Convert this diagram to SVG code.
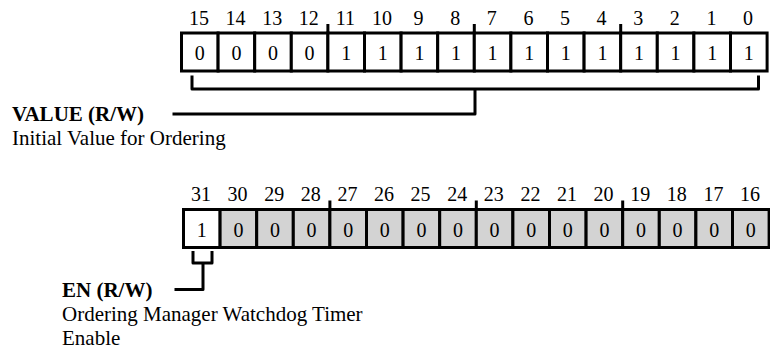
<svg xmlns="http://www.w3.org/2000/svg" width="770" height="354" viewBox="0 0 770 354">
<style>
.cell{fill:#fff;stroke:#000;stroke-width:3}
.g{fill:#d3d3d3}
.num{font-family:"Liberation Serif","Times New Roman",serif;font-size:20px;text-anchor:middle;fill:#000}
.val{font-family:"Liberation Serif","Times New Roman",serif;font-size:20px;text-anchor:middle;fill:#000}
.tick{stroke:#000;stroke-width:3;fill:none}
.conn{stroke:#000;stroke-width:3;fill:none;stroke-linejoin:round;stroke-linecap:square}
.lbl{font-family:"Liberation Serif","Times New Roman",serif;font-size:21px;fill:#000}
.b{font-weight:bold}
</style>
<rect width="770" height="354" fill="#fff"/>
<g id="reg-low" transform="translate(181.5,33)">
<g class="cells">
<rect class="cell" x="0" y="0" width="36.6" height="38"/>
<rect class="cell" x="36.6" y="0" width="36.6" height="38"/>
<rect class="cell" x="73.2" y="0" width="36.6" height="38"/>
<rect class="cell" x="109.8" y="0" width="36.6" height="38"/>
<rect class="cell" x="146.4" y="0" width="36.6" height="38"/>
<rect class="cell" x="183" y="0" width="36.6" height="38"/>
<rect class="cell" x="219.6" y="0" width="36.6" height="38"/>
<rect class="cell" x="256.2" y="0" width="36.6" height="38"/>
<rect class="cell" x="292.8" y="0" width="36.6" height="38"/>
<rect class="cell" x="329.4" y="0" width="36.6" height="38"/>
<rect class="cell" x="366" y="0" width="36.6" height="38"/>
<rect class="cell" x="402.6" y="0" width="36.6" height="38"/>
<rect class="cell" x="439.2" y="0" width="36.6" height="38"/>
<rect class="cell" x="475.8" y="0" width="36.6" height="38"/>
<rect class="cell" x="512.4" y="0" width="36.6" height="38"/>
<rect class="cell" x="549" y="0" width="36.6" height="38"/>
</g>
<path class="tick" d="M146.4,-9V0M292.8,-9V0M439.2,-9V0"/>
<g class="num">
<text x="17.5" y="-8">15</text><text x="54.1" y="-8">14</text><text x="90.7" y="-8">13</text><text x="127.3" y="-8">12</text>
<text x="163.9" y="-8">11</text><text x="200.5" y="-8">10</text><text x="237.1" y="-8">9</text><text x="273.7" y="-8">8</text>
<text x="310.3" y="-8">7</text><text x="346.9" y="-8">6</text><text x="383.5" y="-8">5</text><text x="420.1" y="-8">4</text>
<text x="456.7" y="-8">3</text><text x="493.3" y="-8">2</text><text x="529.9" y="-8">1</text><text x="566.5" y="-8">0</text>
</g>
<g class="val">
<text x="18.3" y="27">0</text><text x="54.9" y="27">0</text><text x="91.5" y="27">0</text><text x="128.1" y="27">0</text>
<text x="164.7" y="27">1</text><text x="201.3" y="27">1</text><text x="237.9" y="27">1</text><text x="274.5" y="27">1</text>
<text x="311.1" y="27">1</text><text x="347.7" y="27">1</text><text x="384.3" y="27">1</text><text x="420.9" y="27">1</text>
<text x="457.5" y="27">1</text><text x="494.1" y="27">1</text><text x="530.7" y="27">1</text><text x="567.3" y="27">1</text>
</g>
</g>
<g id="reg-high" transform="translate(183.5,209.5)">
<g class="cells">
<rect class="cell" x="0" y="0" width="36.6" height="38"/>
<rect class="cell g" x="36.6" y="0" width="36.6" height="38"/>
<rect class="cell g" x="73.2" y="0" width="36.6" height="38"/>
<rect class="cell g" x="109.8" y="0" width="36.6" height="38"/>
<rect class="cell g" x="146.4" y="0" width="36.6" height="38"/>
<rect class="cell g" x="183" y="0" width="36.6" height="38"/>
<rect class="cell g" x="219.6" y="0" width="36.6" height="38"/>
<rect class="cell g" x="256.2" y="0" width="36.6" height="38"/>
<rect class="cell g" x="292.8" y="0" width="36.6" height="38"/>
<rect class="cell g" x="329.4" y="0" width="36.6" height="38"/>
<rect class="cell g" x="366" y="0" width="36.6" height="38"/>
<rect class="cell g" x="402.6" y="0" width="36.6" height="38"/>
<rect class="cell g" x="439.2" y="0" width="36.6" height="38"/>
<rect class="cell g" x="475.8" y="0" width="36.6" height="38"/>
<rect class="cell g" x="512.4" y="0" width="36.6" height="38"/>
<rect class="cell g" x="549" y="0" width="36.6" height="38"/>
</g>
<path class="tick" d="M146.4,-9V0M292.8,-9V0M439.2,-9V0"/>
<g class="num">
<text x="17.5" y="-9">31</text><text x="54.1" y="-9">30</text><text x="90.7" y="-9">29</text><text x="127.3" y="-9">28</text>
<text x="163.9" y="-9">27</text><text x="200.5" y="-9">26</text><text x="237.1" y="-9">25</text><text x="273.7" y="-9">24</text>
<text x="310.3" y="-9">23</text><text x="346.9" y="-9">22</text><text x="383.5" y="-9">21</text><text x="420.1" y="-9">20</text>
<text x="456.7" y="-9">19</text><text x="493.3" y="-9">18</text><text x="529.9" y="-9">17</text><text x="566.5" y="-9">16</text>
</g>
<g class="val">
<text x="18.3" y="27">1</text><text x="54.9" y="27">0</text><text x="91.5" y="27">0</text><text x="128.1" y="27">0</text>
<text x="164.7" y="27">0</text><text x="201.3" y="27">0</text><text x="237.9" y="27">0</text><text x="274.5" y="27">0</text>
<text x="311.1" y="27">0</text><text x="347.7" y="27">0</text><text x="384.3" y="27">0</text><text x="420.9" y="27">0</text>
<text x="457.5" y="27">0</text><text x="494.1" y="27">0</text><text x="530.7" y="27">0</text><text x="567.3" y="27">0</text>
</g>
</g>
<g id="connectors">
<path class="conn" d="M192,77V89H758.5V77M475,89V114H174"/>
<path class="conn" d="M193,252.5V263H212V252.5M203,263V289.5H176"/>
</g>
<g id="label-value">
<text class="lbl b" x="12" y="121">VALUE (R/W)</text>
<text class="lbl" x="12" y="145">Initial Value for Ordering</text>
</g>
<g id="label-en">
<text class="lbl b" x="62" y="297">EN (R/W)</text>
<text class="lbl" x="62" y="321">Ordering Manager Watchdog Timer</text>
<text class="lbl" x="62" y="345">Enable</text>
</g>
</svg>
